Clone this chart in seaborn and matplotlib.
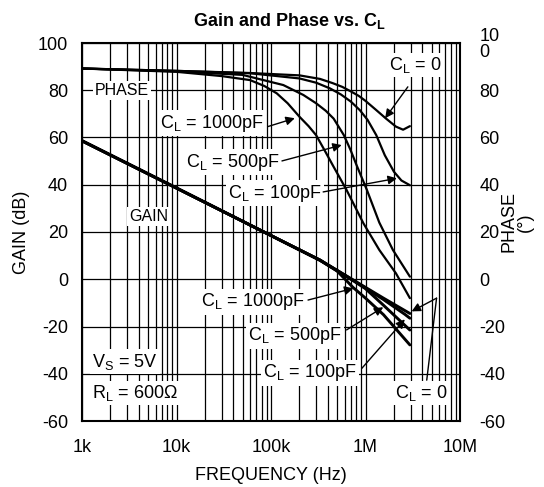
import numpy as np
import pandas as pd
import matplotlib
matplotlib.use("Agg")
import matplotlib.pyplot as plt
import seaborn as sns
from matplotlib.ticker import FixedLocator, LogLocator, NullFormatter

# ---------------- data ----------------
x_ticks = [1e3, 1e4, 1e5, 1e6, 1e7]
x_tick_labels = ["1k", "10k", "100k", "1M", "10M"]
y_ticks = [-60, -40, -20, 0, 20, 40, 60, 80, 100]
y_left_labels = ["-60", "-40", "-20", "0", "20", "40", "60", "80", "100"]
y_right_labels = ["-60", "-40", "-20", "0", "20", "40", "60", "80", "10\n0"]

# gain curves (dB)
gain_f_c0 = [1e3, 1e4, 1e5, 3.3e5, 7.4e5, 1.55e6, 2.95e6]
gain_c0 = [58.6, 38.6, 18.5, 8.1, -0.3, -8.0, -14.5]
gain_f_c100 = [1e3, 1e4, 1e5, 3.3e5, 7.4e5, 1.55e6, 2.6e6, 2.95e6]
gain_c100 = [58.6, 38.6, 18.5, 8.1, -0.4, -8.6, -14.8, -16.5]
gain_f_c500 = [1e3, 1e4, 1e5, 3.3e5, 7.4e5, 1.0e6, 1.55e6, 2.95e6]
gain_c500 = [58.6, 38.6, 18.5, 8.1, -0.6, -4.0, -11.0, -21.5]
gain_f_c1000 = [1e3, 1e4, 1e5, 3.3e5, 5e5, 7.4e5, 1.0e6, 1.55e6, 2.95e6]
gain_c1000 = [58.6, 38.6, 18.5, 8.0, 3.5, -3.5, -8.0, -15.0, -27.8]

# phase curves (degrees)
phase_f_c0 = [1e3, 1e4, 6e4, 2e5, 3.3e5, 4.5e5, 5.7e5, 7e5, 8.5e5, 1.0e6, 1.3e6, 1.65e6, 2.1e6, 2.5e6, 2.95e6]
phase_c0 = [89.2, 88.2, 87.3, 86.3, 84.8, 83.0, 81.4, 79.5, 77.6, 75.5, 71.6, 68.0, 64.6, 63.3, 64.8]
phase_f_c100 = [1e3, 1e4, 6e4, 2e5, 3e5, 4.2e5, 5.5e5, 7e5, 8.7e5, 1.05e6, 1.3e6, 1.6e6, 2.0e6, 2.4e6, 2.95e6]
phase_c100 = [89.2, 88.2, 87.2, 85.0, 83.2, 80.8, 78.2, 75.2, 71.6, 67.5, 61.0, 52.5, 45.5, 41.8, 39.8]
phase_f_c500 = [1e3, 1e4, 5e4, 1.35e5, 2.2e5, 3e5, 3.8e5, 4.6e5, 5.9e5, 6.9e5, 8.1e5, 1.03e6, 1.4e6, 1.95e6, 2.95e6]
phase_c500 = [89.2, 88.0, 86.5, 82.2, 78.0, 74.5, 71.3, 68.0, 61.0, 55.0, 48.0, 38.0, 24.0, 12.4, 1.1]
phase_f_c1000 = [1e3, 1e4, 3e4, 6e4, 8.5e4, 1.15e5, 1.5e5, 2e5, 2.5e5, 3e5, 3.7e5, 4.6e5, 6.3e5, 9.5e5, 1.4e6, 2.1e6, 2.95e6]
phase_c1000 = [89.2, 87.8, 86.0, 84.3, 81.8, 78.7, 74.5, 68.8, 64.8, 61.0, 54.5, 47.6, 37.8, 23.7, 12.4, 2.5, -8.0]


def frame(kind, name, f, v):
    return pd.DataFrame({"freq": f, "value": v, "series": f"{kind}-{name}"})


gain_df = pd.concat([
    frame("gain", "0", gain_f_c0, gain_c0),
    frame("gain", "100", gain_f_c100, gain_c100),
    frame("gain", "500", gain_f_c500, gain_c500),
    frame("gain", "1000", gain_f_c1000, gain_c1000),
], ignore_index=True)
phase_df = pd.concat([
    frame("phase", "0", phase_f_c0, phase_c0),
    frame("phase", "100", phase_f_c100, phase_c100),
    frame("phase", "500", phase_f_c500, phase_c500),
    frame("phase", "1000", phase_f_c1000, phase_c1000),
], ignore_index=True)

# ---------------- style ----------------
sns.set_style("white")
plt.rcParams["font.family"] = ["Liberation Sans", "DejaVu Sans"]
plt.rcParams["mathtext.fontset"] = "custom"
plt.rcParams["mathtext.rm"] = "Liberation Sans"
plt.rcParams["mathtext.it"] = "Liberation Sans:italic"
plt.rcParams["mathtext.bf"] = "Liberation Sans:bold"
for key in ["text.color", "axes.labelcolor", "xtick.color", "ytick.color",
            "xtick.labelcolor", "ytick.labelcolor"]:
    plt.rcParams[key] = "black"

W, H = 544, 487
fig = plt.figure(figsize=(W / 100, H / 100), dpi=100)
ax = fig.add_axes([82 / W, (H - 421) / H, 378 / W, 378 / H])

ax.set_xscale("log")
ax.set_xlim(1e3, 1e7)
ax.set_ylim(-60, 100)

# grid
ax.xaxis.set_major_locator(FixedLocator(x_ticks))
ax.xaxis.set_minor_locator(LogLocator(base=10, subs=np.arange(2, 10)))
ax.xaxis.set_minor_formatter(NullFormatter())
ax.set_xticklabels(x_tick_labels)
ax.set_yticks(y_ticks)
ax.set_yticklabels(y_left_labels)
ax.grid(True, which="both", axis="x", color="black", lw=0.9)
ax.grid(True, which="major", axis="y", color="black", lw=0.9)
ax.set_axisbelow(True)

sns.lineplot(data=phase_df, x="freq", y="value", units="series", estimator=None,
             sort=False, color="black", lw=1.6, ax=ax, legend=False)
sns.lineplot(data=gain_df, x="freq", y="value", units="series", estimator=None,
             sort=False, color="black", lw=2.1, ax=ax, legend=False)

TS = 13
ax.tick_params(axis="both", which="both", length=0, labelsize=TS, labelcolor="black")
ax.tick_params(axis="x", pad=13)
ax.tick_params(axis="y", pad=10)
for s in ax.spines.values():
    s.set_color("black")
    s.set_linewidth(1.5)

ax.set_xlabel("")
ax.set_ylabel("GAIN (dB)", fontsize=TS, labelpad=6, color="black")
fig.text(271 / W, 1 - 476 / H, "FREQUENCY (Hz)", ha="center", va="center", fontsize=TS,
         color="black")

ax2 = ax.twinx()
ax2.set_ylim(-60, 100)
ax2.set_yticks(y_ticks)
ax2.set_yticklabels(y_right_labels, linespacing=0.9)
ax2.tick_params(axis="y", length=0, labelsize=TS, pad=14, labelcolor="black")
for s in ax2.spines.values():
    s.set_visible(False)
fig.text(517 / W, 1 - 222 / H, "PHASE\n(°)", rotation=90, ha="center", va="center",
         fontsize=TS, linespacing=0.95, color="black")

fig.text(289 / W, 1 - 21 / H, r"Gain and Phase vs. C$_\mathbf{L}$", ha="center",
         va="center", fontsize=13, fontweight="bold", color="black")

# ---------------- annotations ----------------
box = dict(boxstyle="square,pad=0.12", fc="white", ec="none")
ap = dict(arrowstyle="-|>", color="black", lw=1.0, mutation_scale=13, shrinkA=0, shrinkB=0)
fs = 13


def label(text, pos, **kw):
    ax.text(pos[0], pos[1], text, transform=ax.transAxes, ha=kw.get("ha", "center"),
            va="center", fontsize=kw.get("fs", fs), bbox=box, zorder=5, color="black")


def arrow(tail, head, style=None):
    props = dict(ap)
    if style:
        props["arrowstyle"] = style
    ax.annotate("", xy=head, xytext=tail, xycoords="axes fraction",
                textcoords="axes fraction", arrowprops=props, zorder=6)


label("PHASE", (0.106, 0.875), fs=11.5)
label("GAIN", (0.177, 0.540), fs=11.5)

label(r"C$_\mathrm{L}$ = 0", (0.881, 0.942))
arrow((0.862, 0.884), (0.802, 0.801))

label(r"C$_\mathrm{L}$ = 1000pF", (0.344, 0.788))
arrow((0.492, 0.779), (0.563, 0.801))
label(r"C$_\mathrm{L}$ = 500pF", (0.399, 0.685))
arrow((0.529, 0.688), (0.687, 0.730))
label(r"C$_\mathrm{L}$ = 100pF", (0.511, 0.603))
arrow((0.638, 0.606), (0.833, 0.642))

label(r"C$_\mathrm{L}$ = 1000pF", (0.452, 0.315))
arrow((0.598, 0.320), (0.718, 0.351))
label(r"C$_\mathrm{L}$ = 500pF", (0.563, 0.225))
arrow((0.700, 0.241), (0.797, 0.301))
label(r"C$_\mathrm{L}$ = 100pF", (0.603, 0.127))
arrow((0.740, 0.139), (0.854, 0.269))

label(r"C$_\mathrm{L}$ = 0", (0.897, 0.074))
arrow((0.912, 0.108), (0.938, 0.325), style="-")
arrow((0.938, 0.325), (0.872, 0.290))

label(r"V$_\mathrm{S}$ = 5V", (0.026, 0.157), ha="left")
label(r"R$_\mathrm{L}$ = 600Ω", (0.026, 0.074), ha="left")

fig.savefig("out.png", dpi=100)
